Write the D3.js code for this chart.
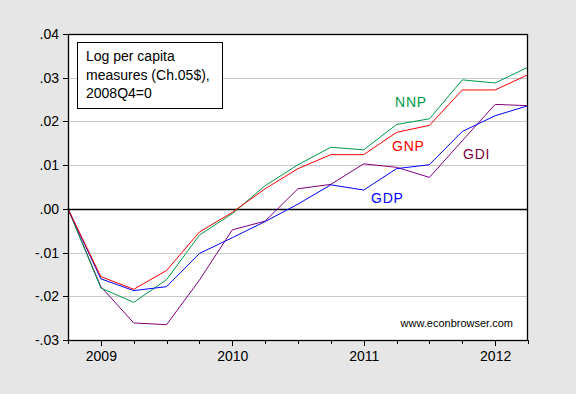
<!DOCTYPE html>
<html>
<head>
<meta charset="utf-8">
<script src="https://cdn.jsdelivr.net/npm/d3@7"></script>
<style>
  html, body { margin: 0; padding: 0; background: #e6e6e6; }
  svg { display: block; font-family: Arial, "Liberation Sans", sans-serif; }
  .axis path { display: none; }
  .axis line { stroke: #000; shape-rendering: crispEdges; }
  .axis text { fill: #000; font-size: 14px; }
  .series { fill: none; stroke-width: 1; }
</style>
</head>
<body>
<svg id="chart" width="576" height="394"></svg>
<script>
  // ---- Data (log per capita, 2008Q4 = 0) ----
  const quarters = ["2008Q4", "2009Q1", "2009Q2", "2009Q3", "2009Q4", "2010Q1", "2010Q2", "2010Q3",
    "2010Q4", "2011Q1", "2011Q2", "2011Q3", "2011Q4", "2012Q1", "2012Q2"];
  const gdp = [0, -0.0160, -0.0187, -0.0178, -0.0102, -0.0066, -0.0029, 0.0011, 0.0055, 0.0043, 0.0092, 0.0101, 0.0177, 0.0213, 0.0236];
  const gnp = [0, -0.0155, -0.0184, -0.0141, -0.0053, -0.0008, 0.0046, 0.0092, 0.0124, 0.0124, 0.0175, 0.0191, 0.0272, 0.0272, 0.0307];
  const nnp = [0, -0.0181, -0.0214, -0.0162, -0.0060, -0.0011, 0.0053, 0.0101, 0.0141, 0.0135, 0.0193, 0.0206, 0.0295, 0.0288, 0.0324];
  const gdi = [0, -0.0178, -0.0261, -0.0265, -0.0163, -0.0048, -0.0028, 0.0046, 0.0056, 0.0103, 0.0095, 0.0072, 0.0156, 0.0239, 0.0236];
  const yTicks = [-0.03, -0.02, -0.01, 0, 0.01, 0.02, 0.03, 0.04];
  const yearLabels = ["2009", "2010", "2011", "2012"];

  const series = [
    { name: "GDI", values: gdi, color: "#800080" },
    { name: "NNP", values: nnp, color: "#009a4a" },
    { name: "GDP", values: gdp, color: "#0000ff" },
    { name: "GNP", values: gnp, color: "#ff0000" },
  ];

  // series labels placed inside the plot
  const labels = [
    { text: "NNP", x: 395, y: 107, color: "#009a4a" },
    { text: "GNP", x: 392, y: 151, color: "#ff0000" },
    { text: "GDI", x: 463, y: 159, color: "#800040" },
    { text: "GDP", x: 371, y: 203, color: "#0000ff" },
  ];

  const plot = { left: 68, right: 528, top: 34, bottom: 340 };
  const svg = d3.select("#chart");

  const x = d3.scaleLinear().domain([0, quarters.length - 1]).range([plot.left, plot.right]);
  const y = d3.scaleLinear().domain([-0.03, 0.04]).range([plot.bottom, plot.top]);

  // plot background
  svg.append("rect")
    .attr("x", plot.left).attr("y", plot.top)
    .attr("width", plot.right - plot.left).attr("height", plot.bottom - plot.top)
    .attr("fill", "#fff");

  // gridlines
  svg.append("g")
    .selectAll("line")
    .data(yTicks.filter((d) => d !== 0 && d !== -0.03 && d !== 0.04))
    .join("line")
    .attr("x1", plot.left).attr("x2", plot.right)
    .attr("y1", (d) => Math.round(y(d)) + 0.5).attr("y2", (d) => Math.round(y(d)) + 0.5)
    .attr("stroke", "#c8c8c8");

  // zero line
  svg.append("line")
    .attr("x1", plot.left).attr("x2", plot.right)
    .attr("y1", Math.round(y(0)) + 0.5).attr("y2", Math.round(y(0)) + 0.5)
    .attr("stroke", "#000").attr("stroke-width", 1.5);

  // series
  const line = d3.line().x((d, i) => x(i)).y((d) => y(d));
  svg.append("g")
    .selectAll("path")
    .data(series)
    .join("path")
    .attr("class", "series")
    .attr("stroke", (d) => d.color)
    .attr("d", (d) => line(d.values));

  // frame
  svg.append("rect")
    .attr("x", plot.left + 0.5).attr("y", plot.top + 0.5)
    .attr("width", plot.right - plot.left - 1).attr("height", plot.bottom - plot.top)
    .attr("fill", "none").attr("stroke", "#000").attr("stroke-width", 1.3);

  // y axis
  const fmt = (d) => d3.format(".2f")(d).replace("−", "-").replace("0.", ".");
  svg.append("g")
    .attr("class", "axis")
    .attr("transform", `translate(${plot.left},0)`)
    .call(d3.axisLeft(y).tickValues(yTicks).tickSize(5).tickPadding(4).tickFormat(fmt));

  // x axis: quarterly minor ticks, yearly labels on Q1
  svg.append("g")
    .attr("class", "axis")
    .attr("transform", `translate(0,${plot.bottom})`)
    .call(d3.axisBottom(x).tickValues(d3.range(quarters.length)).tickSize(4).tickFormat(""));

  const yearIdx = yearLabels.map((yr) => quarters.indexOf(yr + "Q1"));
  svg.append("g")
    .attr("class", "axis")
    .attr("transform", `translate(0,${plot.bottom})`)
    .call(d3.axisBottom(x).tickValues(yearIdx).tickSize(6).tickPadding(5)
      .tickFormat((d) => quarters[d].slice(0, 4)));

  // legend box
  svg.append("rect")
    .attr("x", 77.5).attr("y", 42.5).attr("width", 145).attr("height", 66)
    .attr("fill", "#fff").attr("stroke", "#000");
  const title = ["Log per capita", "measures (Ch.05$),", "2008Q4=0"];
  svg.append("g")
    .selectAll("text")
    .data(title)
    .join("text")
    .attr("x", 86)
    .attr("y", (d, i) => 61 + i * 18.5)
    .attr("font-size", 14)
    .text((d) => d);

  // series labels
  svg.append("g")
    .selectAll("text")
    .data(labels)
    .join("text")
    .attr("x", (d) => d.x).attr("y", (d) => d.y)
    .attr("fill", (d) => d.color)
    .attr("font-size", 14)
    .attr("letter-spacing", 0.8)
    .text((d) => d.text);

  // watermark
  svg.append("text")
    .attr("x", 513).attr("y", 327)
    .attr("text-anchor", "end")
    .attr("font-size", 11)
    .text("www.econbrowser.com");
</script>
</body>
</html>
